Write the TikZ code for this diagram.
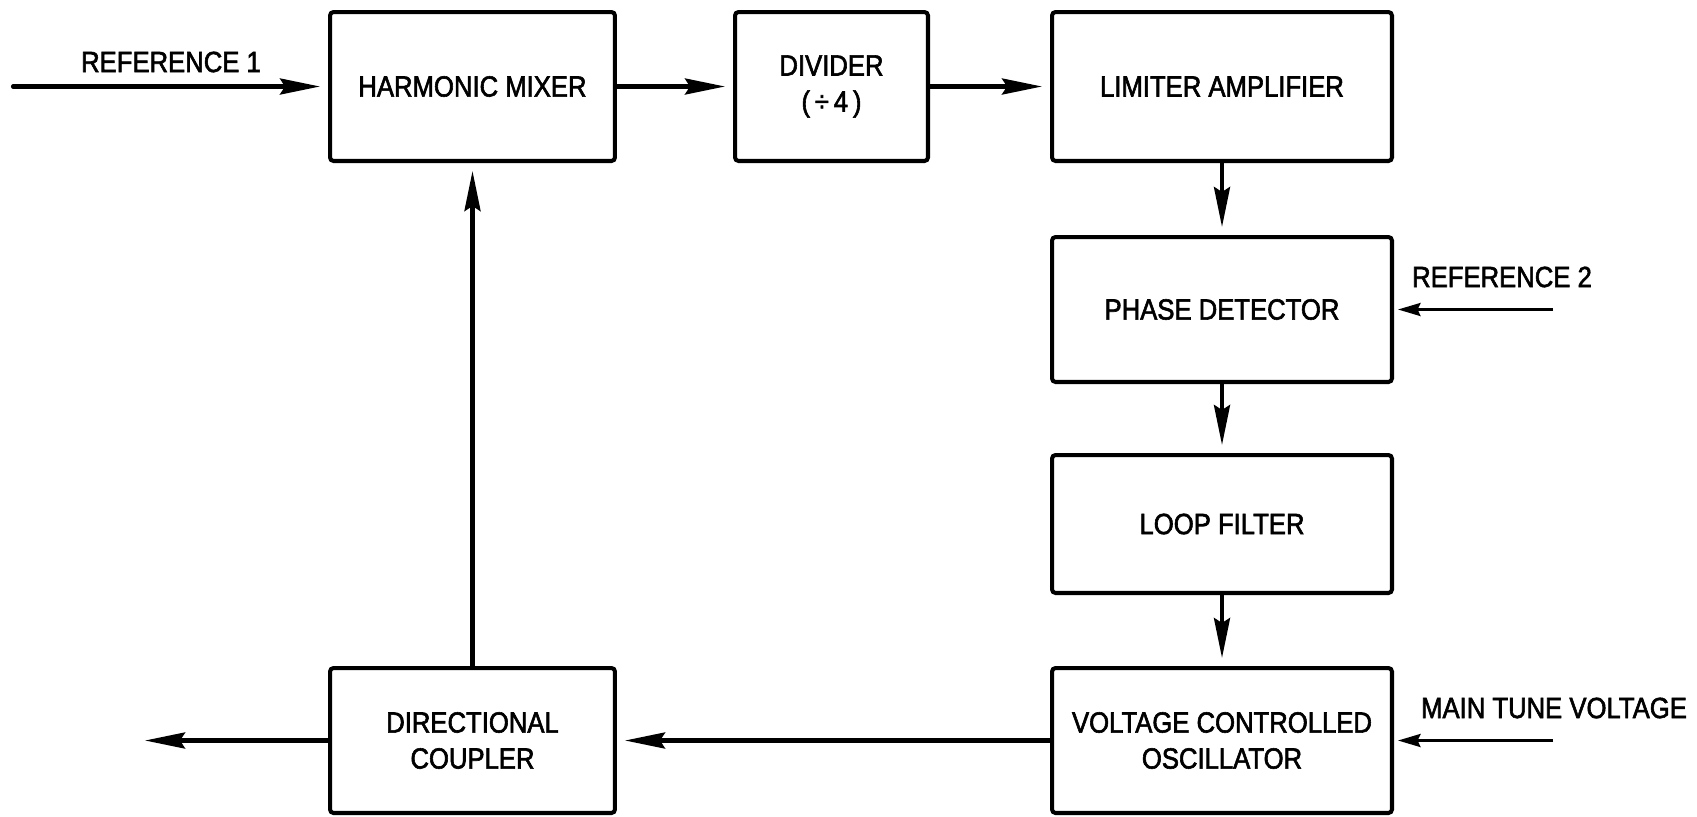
\documentclass[tikz,border=0pt]{standalone}
\usepackage{fontspec}
\setmainfont{Liberation Sans}[FakeStretch=0.88, FakeBold=2]
\usepackage{tikz}
\usetikzlibrary{arrows.meta,positioning}

\begin{document}
\begin{tikzpicture}[
  x=0.02cm, y=-0.02cm,
  blk/.style={rectangle, draw, line width=2.3pt, rounded corners=2pt, minimum height=2.9cm, align=center, font=\fontsize{16.6}{20.5}\selectfont},
  lbl/.style={font=\fontsize{16.6}{20.5}\selectfont},
  arr/.style={-{Stealth[length=0.8cm, width=0.32cm, inset=0.1cm]}, line width=2.3pt, shorten >=0.16cm},
  thinarr/.style={-{Stealth[length=0.45cm, width=0.26cm, inset=0.06cm]}, line width=1.7pt, shorten >=0.08cm}
]
  \useasboundingbox (0,0) rectangle (1697,816);

  \node[blk, minimum width=5.7cm, minimum height=2.98cm] (mixer) at (472.5,86.5) {HARMONIC MIXER};
  \node[blk, minimum width=3.86cm, minimum height=2.98cm] (divider) at (831.5,86.5) {DIVIDER\\(\,÷\,4\,)};
  \node[blk, minimum width=6.8cm, minimum height=2.98cm] (limiter) at (1222,86.5) {LIMITER AMPLIFIER};
  \node[blk, minimum width=6.8cm] (phase) at (1222,309.5) {PHASE DETECTOR};
  \node[blk, minimum width=6.8cm, minimum height=2.76cm] (loop) at (1222,524) {LOOP FILTER};
  \node[blk, minimum width=6.8cm] (vco) at (1222,740.5) {VOLTAGE CONTROLLED\\OSCILLATOR};
  \node[blk, minimum width=5.7cm] (coupler) at (472.5,740.5) {DIRECTIONAL\\COUPLER};

  \coordinate (in1) at (13,86.5);
  \coordinate (in2) at (1553,309.5);
  \coordinate (tune) at (1553,740.5);
  \coordinate (out) at (145,740.5);

  \node[lbl] (ref1) at (171,62) {REFERENCE 1};
  \node[lbl] (ref2) at (1502,277) {REFERENCE 2};
  \node[lbl] (tunelbl) at (1554,708) {MAIN TUNE VOLTAGE};

  \draw[arr, line cap=round] (in1) -- (mixer);
  \draw[arr] (mixer) -- (divider);
  \draw[arr] (divider) -- (limiter);
  \draw[arr] (limiter) -- (phase);
  \draw[arr] (phase) -- (loop);
  \draw[arr] (loop) -- (vco);
  \draw[arr] (vco) -- (coupler);
  \draw[arr, shorten >=0pt] (coupler) -- (out);
  \draw[arr] (coupler) -- (mixer);
  \draw[thinarr] (in2) -- (phase);
  \draw[thinarr] (tune) -- (vco);
\end{tikzpicture}
\end{document}
